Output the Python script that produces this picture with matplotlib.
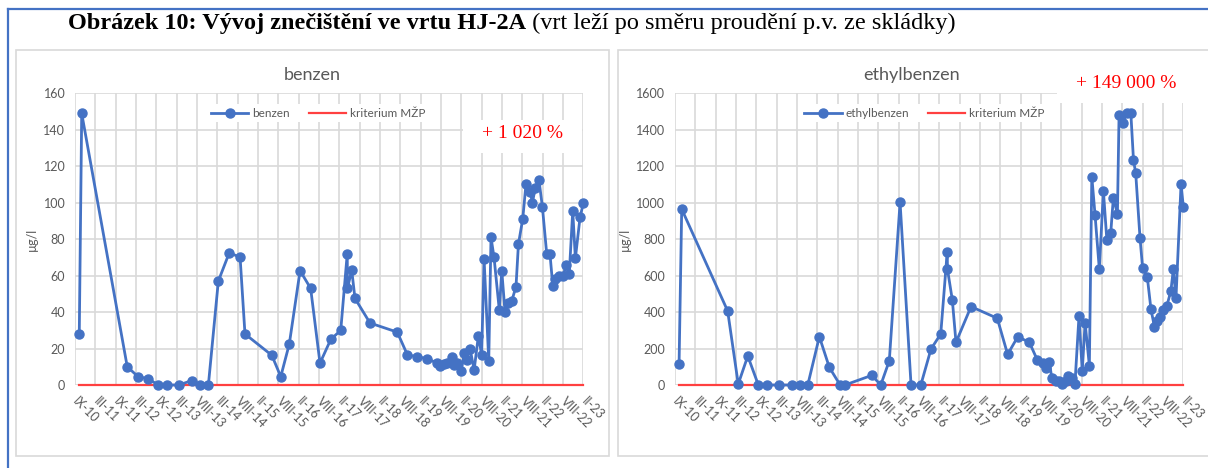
import matplotlib
matplotlib.use("Agg")
import matplotlib.pyplot as plt
from matplotlib.patches import Rectangle
from matplotlib.lines import Line2D

# ---------------- data ----------------
tick_labels = ["IX-10", "III-11", "IX-11", "III-12", "IX-12", "III-13", "VIII-13",
               "III-14", "VIII-14", "II-15", "VIII-15", "II-16", "VIII-16", "II-17",
               "VIII-17", "II-18", "VIII-18", "II-19", "VIII-19", "II-20", "VIII-20",
               "II-21", "VIII-21", "II-22", "VIII-22", "II-23"]

# x positions in axis-label units (0 = IX-10, 25 = II-23)
benzen_t = [0.21, 0.33, 2.57, 3.11, 3.58, 4.10, 4.51, 5.10, 5.74, 6.15, 6.56, 7.05, 7.59,
            8.12, 8.36, 9.68, 10.12, 10.54, 11.07, 11.59, 12.05, 12.58, 13.07, 13.39,
            13.40, 13.61, 13.77, 14.51, 15.85, 16.35, 16.84, 17.33, 17.82, 17.95, 18.15,
            18.28, 18.53, 18.64, 18.78, 19.00, 19.15, 19.27, 19.43, 19.63, 19.84, 20.00,
            20.12, 20.35, 20.46, 20.61, 20.87, 20.99, 21.15, 21.31, 21.48, 21.69, 21.81,
            22.02, 22.18, 22.38, 22.50, 22.63, 22.82, 22.99, 23.20, 23.36, 23.50, 23.63,
            23.82, 24.02, 24.15, 24.31, 24.48, 24.61, 24.84, 25.00]
benzen_v = [28, 149, 10, 4.5, 3.5, 0, 0, 0, 2.4, 0, 0, 57, 72.6, 70, 28, 16.3, 4.6, 22.5,
            62.7, 53, 12, 25, 30, 72, 53, 63, 47.5, 34, 29, 16.5, 15.5, 14.4, 12, 10.4,
            11.3, 12, 15.5, 11, 12, 7.9, 17.7, 13.7, 20, 8.2, 27, 16.5, 69, 13.3, 81, 70,
            41, 62.7, 40, 45, 46, 54, 77.3, 91, 110, 106, 100, 108, 112.4, 97.5, 72, 72,
            54.3, 58, 60, 60, 66, 61, 95.4, 69.5, 92, 99.6]

ethyl_t = [0.20, 0.33, 2.59, 3.11, 3.58, 4.10, 4.54, 5.12, 5.74, 6.15, 6.53, 7.10, 7.59,
           8.12, 8.36, 9.68, 10.12, 10.54, 11.07, 11.61, 12.09, 12.59, 13.07, 13.39,
           13.40, 13.64, 13.82, 14.56, 15.85, 16.36, 16.86, 17.43, 17.82, 18.09, 18.25,
           18.41, 18.53, 18.73, 18.90, 19.05, 19.22, 19.35, 19.51, 19.67, 19.87, 20.03,
           20.17, 20.38, 20.50, 20.66, 20.87, 21.07, 21.24, 21.43, 21.56, 21.76, 21.84,
           22.02, 22.22, 22.42, 22.55, 22.66, 22.87, 23.00, 23.23, 23.41, 23.58, 23.69,
           23.86, 24.02, 24.19, 24.39, 24.51, 24.64, 24.89, 25.00]
ethyl_v = [113, 965, 406, 5, 159, 0, 0, 0, 0, 0, 0, 265, 97, 0, 0, 53, 0, 133, 1002, 0, 0,
           197, 280, 731, 636, 466, 234, 430, 366, 168, 265, 234, 137, 119, 91, 128, 40,
           22, 22, 5, 22, 49, 38, 4, 378, 77, 342, 106, 1143, 932, 635, 1064, 795, 832,
           1027, 938, 1481, 1439, 1490, 1490, 1234, 1161, 808, 640, 591, 415, 320, 351,
           375, 411, 433, 517, 635, 476, 1103, 978]

benzen_krit = 0
ethyl_krit = 1
benzen_note = "+ 1 020 %"
ethyl_note = "+ 149 000 %"

# ---------------- style ----------------
W, H = 1208, 468
fig = plt.figure(figsize=(W / 100, H / 100), dpi=100)
fig.patch.set_facecolor("white")

BLUE = "#4472C4"
RED = "#FF4040"
NOTE_RED = "#FF0000"
GRID = "#D9D9D9"
TXT = "#595959"
SANS = ["Lato", "DejaVu Sans"]


def fx(px):
    return px / W


def fy(py):
    return 1 - py / H


# outer blue frame (left + top)
fig.add_artist(Line2D([fx(8), fx(8)], [fy(9), fy(470)], color=BLUE, lw=1.6,
                      transform=fig.transFigure))
fig.add_artist(Line2D([fx(8), fx(1210)], [fy(9), fy(9)], color=BLUE, lw=1.6,
                      transform=fig.transFigure))

# chart panels
for x0, x1 in [(16, 609), (618, 1220)]:
    fig.add_artist(Rectangle((fx(x0), fy(456)), fx(x1 - x0), (456 - 50) / H,
                             transform=fig.transFigure, facecolor="white",
                             edgecolor=GRID, lw=1.2, zorder=0))

# figure caption
t1 = fig.text(fx(68), fy(23), "Obrázek 10: Vývoj znečištění ve vrtu HJ-2A",
              family="Liberation Serif", weight="bold", fontsize=17.5,
              va="center", ha="left")
fig.canvas.draw()
bb = t1.get_window_extent(fig.canvas.get_renderer())
fig.text(bb.x1 / W, fy(23), " (vrt leží po směru proudění p.v. ze skládky)",
         family="Liberation Serif", fontsize=17.5, va="center", ha="left")


def make_panel(left_px, t, v, krit, ymax, ystep, title, series_name, note,
               note_xy, note_box, leg_x):
    ax = fig.add_axes([fx(left_px), fy(385), 508.3 / W, (385 - 93.3) / H])
    ax.set_xlim(0, 25)
    ax.set_ylim(0, ymax)
    ax.set_xticks(range(len(tick_labels)))
    ax.set_xticklabels(tick_labels, rotation=-45, ha="left", va="center",
                       rotation_mode="anchor", fontsize=9, color=TXT,
                       family=SANS)
    ax.set_yticks(range(0, ymax + 1, ystep))
    ax.set_yticklabels([str(y) for y in range(0, ymax + 1, ystep)],
                       fontsize=9, color=TXT, family=SANS)
    ax.tick_params(length=0, pad=7)
    ax.tick_params(axis="x", pad=10)
    for s in ax.spines.values():
        s.set_visible(False)
    ax.grid(True, color=GRID, lw=1.2)
    ax.set_axisbelow(True)
    l1, = ax.plot(t, v, color=BLUE, lw=2, marker="o", ms=6.5, zorder=4,
                  label=series_name, clip_on=False)
    l2, = ax.plot([t[0], t[-1]], [krit, krit], color=RED, lw=1.6, zorder=3,
                  label="kriterium MŽP", clip_on=False)
    ax.set_ylabel("µg/l", fontsize=9, color=TXT, family=SANS, labelpad=4)
    leg = ax.legend(handles=[l1, l2], loc="center", bbox_to_anchor=(leg_x, 0.932),
                    ncol=2, frameon=True, handlelength=3.2,
                    columnspacing=1.6, handletextpad=0.3, borderpad=0.3,
                    prop={"family": SANS, "size": 8.5})
    leg.get_frame().set_facecolor("white")
    leg.get_frame().set_edgecolor("none")
    leg.get_frame().set_alpha(1)
    for tx in leg.get_texts():
        tx.set_color(TXT)
    # note box (white background hiding the grid)
    bx0, by0, bx1, by1 = note_box
    fig.add_artist(Rectangle((fx(bx0), fy(by1)), fx(bx1 - bx0), (by1 - by0) / H,
                             transform=fig.transFigure, facecolor="white",
                             edgecolor="none", zorder=2))
    fig.text(fx(note_xy[0]), fy(note_xy[1]), note, color=NOTE_RED,
             family="Liberation Serif", fontsize=14, ha="center", va="center",
             zorder=5)
    fig.text(fx(left_px + 237), fy(75), title, color=TXT, family=SANS,
             fontsize=13, ha="center", va="center")
    return ax


make_panel(75, benzen_t, benzen_v, benzen_krit, 160, 20, "benzen", "benzen",
           benzen_note, (523, 133), (463, 120, 582, 153), 0.478)
make_panel(675, ethyl_t, ethyl_v, ethyl_krit, 1600, 200, "ethylbenzen",
           "ethylbenzen", ethyl_note, (1126, 83), (1057, 55, 1195, 103), 0.49)

fig.savefig("out.png", dpi=100, facecolor="white")
